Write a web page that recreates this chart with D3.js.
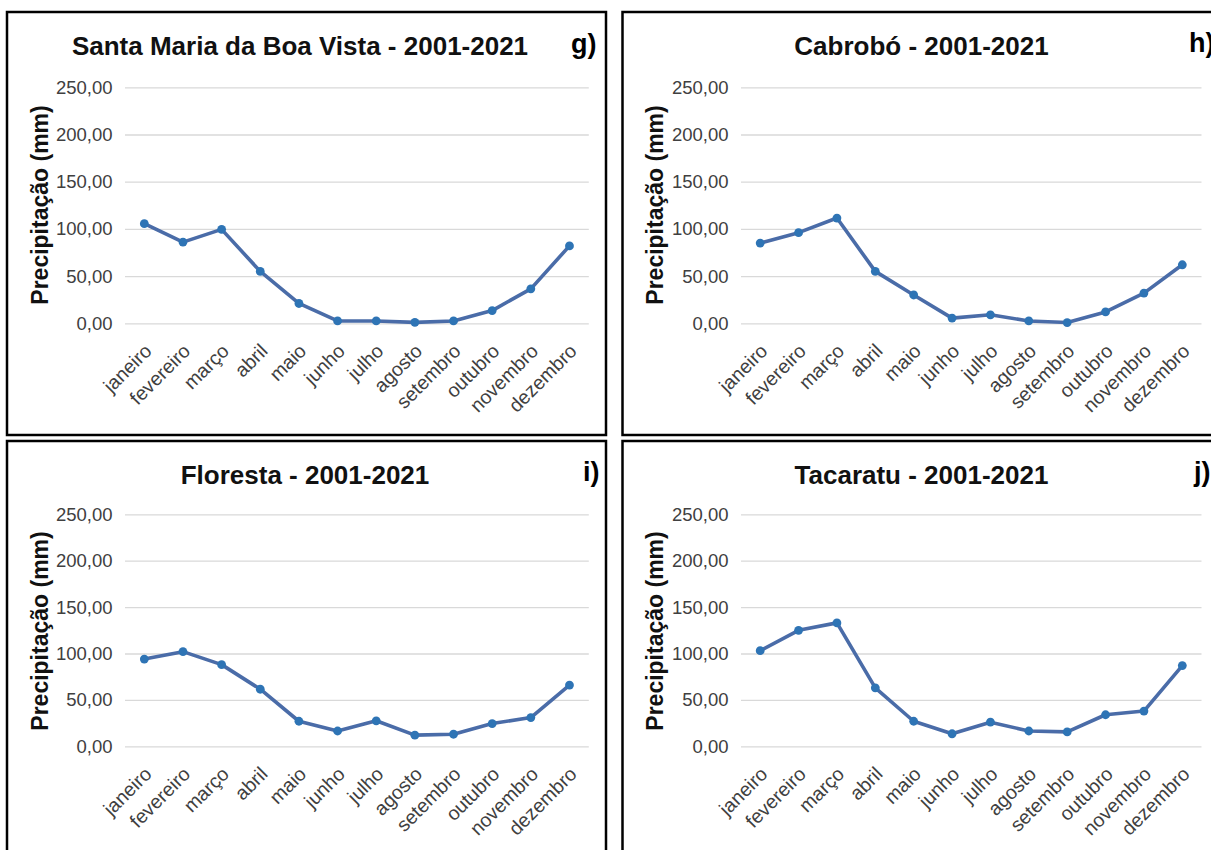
<!DOCTYPE html>
<html>
<head>
<meta charset="utf-8">
<script src="https://cdn.jsdelivr.net/npm/d3@7/dist/d3.min.js"></script>
<style>
  html, body { margin: 0; padding: 0; background: #ffffff; }
  svg { display: block; }
  text { font-family: "Liberation Sans", Arial, sans-serif; }
</style>
</head>
<body>
<svg id="chart" width="1211" height="850"></svg>
<script>
const months = ["janeiro", "fevereiro", "março", "abril", "maio", "junho",
                "julho", "agosto", "setembro", "outubro", "novembro", "dezembro"];
const santaMariaValues = [105.5, 86, 99.5, 55, 21, 2.5, 2.5, 1, 2.5, 13.5, 36.5, 82];
const cabroboValues    = [85, 96, 111.5, 55, 30, 5.5, 9, 2.5, 0.8, 12, 32, 62];
const florestaValues   = [94, 102, 88, 61.5, 27, 16.5, 27.5, 12, 13, 24.5, 31, 66];
const tacaratuValues   = [103, 125, 133, 63, 27, 13.5, 26, 16.5, 15.5, 34, 38, 87];
const yTickValues = [0, 50, 100, 150, 200, 250];
const panelTitles = ["Santa Maria da Boa Vista - 2001-2021", "Cabrobó - 2001-2021",
                     "Floresta - 2001-2021", "Tacaratu - 2001-2021"];
const panelLetters = ["g)", "h)", "i)", "j)"];
const yAxisTitle = "Precipitação (mm)";

const panels = [
  { title: panelTitles[0], letter: panelLetters[0], values: santaMariaValues,
    box: [7, 12, 599, 423], plot: [125, 588.8, 87.3, 323.3],
    titlePos: [300, 55], letterPos: [571, 53], axisTitlePos: [48, 205] },
  { title: panelTitles[1], letter: panelLetters[1], values: cabroboValues,
    box: [622.5, 12, 600, 423], plot: [741, 1201.5, 87.3, 323.3],
    titlePos: [921.5, 55], letterPos: [1189, 52], axisTitlePos: [663, 205] },
  { title: panelTitles[2], letter: panelLetters[2], values: florestaValues,
    box: [7, 441, 599, 420], plot: [125, 588.8, 514.3, 746.3],
    titlePos: [305, 484], letterPos: [583, 481], axisTitlePos: [48, 631] },
  { title: panelTitles[3], letter: panelLetters[3], values: tacaratuValues,
    box: [622.5, 441, 600, 420], plot: [741, 1201.5, 514.3, 746.3],
    titlePos: [921.5, 484], letterPos: [1194, 481], axisTitlePos: [663, 631] }
];

const svg = d3.select("#chart");
const fmt = v => d3.format(".2f")(v).replace(".", ",");

panels.forEach(p => {
  const g = svg.append("g");
  const [x0, x1, yTop, yBottom] = p.plot;

  const x = d3.scalePoint().domain(months).range([x0, x1]).padding(0.5);
  const y = d3.scaleLinear().domain([0, 250]).range([yBottom, yTop]);

  // gridlines + y labels
  const yAxis = g.append("g")
    .attr("transform", `translate(${x0},0)`)
    .call(d3.axisLeft(y).tickValues(yTickValues).tickFormat(fmt)
      .tickSize(-(x1 - x0)).tickPadding(12.5));
  yAxis.select(".domain").remove();
  yAxis.selectAll(".tick line").attr("stroke", "#d9d9d9").attr("stroke-width", 1.3);
  yAxis.selectAll(".tick text")
    .attr("fill", "#404040")
    .style("font-size", "18.5px");

  // x labels
  const xAxis = g.append("g")
    .attr("transform", `translate(0,${yBottom})`)
    .call(d3.axisBottom(x).tickSize(0).tickPadding(0));
  xAxis.select(".domain").remove();
  xAxis.selectAll(".tick text")
    .attr("fill", "#404040")
    .style("font-size", "19.5px")
    .attr("text-anchor", "end")
    .attr("dy", null)
    .attr("y", null)
    .attr("transform", "translate(8,29) rotate(-45)");

  // line
  const line = d3.line().x((d, i) => x(months[i])).y(d => y(d));
  g.append("path")
    .datum(p.values)
    .attr("fill", "none")
    .attr("stroke", "#4a6ca8")
    .attr("stroke-width", 3.6)
    .attr("stroke-linejoin", "round")
    .attr("d", line);

  g.selectAll("circle.pt")
    .data(p.values)
    .join("circle")
    .attr("class", "pt")
    .attr("cx", (d, i) => x(months[i]))
    .attr("cy", d => y(d))
    .attr("r", 4.4)
    .attr("fill", "#2e74b5");

  // title
  g.append("text")
    .attr("x", p.titlePos[0]).attr("y", p.titlePos[1])
    .attr("text-anchor", "middle")
    .style("font-size", "26px").style("font-weight", "bold")
    .attr("fill", "#111")
    .text(p.title);

  // panel letter
  g.append("text")
    .attr("x", p.letterPos[0]).attr("y", p.letterPos[1])
    .style("font-size", "27px").style("font-weight", "bold")
    .attr("fill", "#000")
    .text(p.letter);

  // y axis title
  g.append("text")
    .attr("transform", `translate(${p.axisTitlePos[0]},${p.axisTitlePos[1]}) rotate(-90)`)
    .attr("text-anchor", "middle")
    .style("font-size", "23px").style("font-weight", "bold")
    .attr("fill", "#111")
    .text(yAxisTitle);

  // border
  g.append("rect")
    .attr("x", p.box[0]).attr("y", p.box[1])
    .attr("width", p.box[2]).attr("height", p.box[3])
    .attr("fill", "none")
    .attr("stroke", "#000")
    .attr("stroke-width", 2.5);
});
</script>
</body>
</html>
